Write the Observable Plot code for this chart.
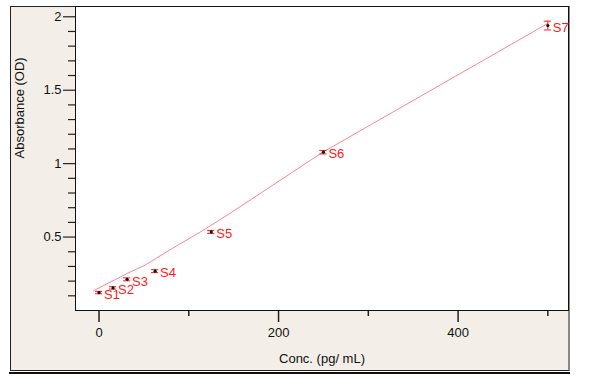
<!DOCTYPE html>
<html>
<head>
<meta charset="utf-8">
<script src="https://cdn.jsdelivr.net/npm/d3@7"></script>
<script src="https://cdn.jsdelivr.net/npm/@observablehq/plot@0.6"></script>
<style>
  body { margin: 0; background: #ffffff; }
  #wrap { position: relative; width: 600px; height: 388px; font-family: Arial, "Liberation Sans", sans-serif; }
  #bg { position: absolute; left: 10px; top: 6px; width: 557px; height: 363px; background: #f3eee7;
        border-left: 1px solid #222; border-top: 1px solid #222; border-bottom: 1px solid #222; border-right: 2px solid #888; }
  #rule { position: absolute; left: 9px; top: 372px; width: 561px; height: 2px; background: #111; }
  #chart { position: absolute; left: 0; top: 0; }
</style>
</head>
<body>
<div id="wrap"><div id="bg"></div><div id="rule"></div><div id="chart"></div></div>
<script>
// Standards
const labels = ["S1", "S2", "S3", "S4", "S5", "S6", "S7"];
const conc   = [0, 15.6, 31.25, 62.5, 125, 250, 500];
const absorb = [0.122, 0.154, 0.212, 0.268, 0.535, 1.078, 1.94];
const errs   = [0.008, 0.008, 0.01, 0.01, 0.01, 0.012, 0.03];

// Fitted curve
const fitConc = [-6, 32, 51, 82, 116, 146, 249, 500];
const fitAbs  = [0.135, 0.254, 0.308, 0.424, 0.546, 0.662, 1.077, 1.955];

// Ticks
const xMajor = [0, 200, 400];
const xMinor = [100, 300, 500];
const yMajor = [0.5, 1, 1.5, 2];
const yMinor = d3.range(1, 21).map(i => i / 10).filter(v => !yMajor.some(m => Math.abs(m - v) < 1e-9));

const pts = labels.map((s, i) => ({label: s, conc: conc[i], abs: absorb[i], err: errs[i]}));
const fit = fitConc.map((c, i) => ({conc: c, abs: fitAbs[i]}));
const capHalf = 4;
const red = "#ff1a1a";

const plot = Plot.plot({
  width: 600,
  height: 388,
  marginLeft: 75,
  marginRight: 32,
  marginTop: 6,
  marginBottom: 78,
  style: {background: "transparent", fontFamily: "Arial, 'Liberation Sans', sans-serif", fontSize: "13px", color: "#111", overflow: "visible"},
  x: {domain: [-26.2, 523], label: null},
  y: {domain: [0, 2.07], label: null},
  marks: [
    Plot.frame({fill: "white", stroke: "none"}),
    Plot.line(fit, {x: "conc", y: "abs", stroke: "#f2687e", strokeWidth: 1, strokeOpacity: 0.8}),
    Plot.ruleX(pts, {x: "conc", y1: d => d.abs - d.err, y2: d => d.abs + d.err, stroke: red, strokeWidth: 1}),
    Plot.ruleY(pts, {y: d => d.abs + d.err, x1: d => d.conc - capHalf, x2: d => d.conc + capHalf, stroke: red, strokeWidth: 1}),
    Plot.ruleY(pts, {y: d => d.abs - d.err, x1: d => d.conc - capHalf, x2: d => d.conc + capHalf, stroke: red, strokeWidth: 1}),
    Plot.dot(pts, {x: "conc", y: "abs", r: 1.6, fill: "#111", stroke: "none"}),
    Plot.axisY({ticks: yMajor, tickSize: 12, tickPadding: 2, tickFormat: d => String(d), stroke: "#222", strokeWidth: 1.2, label: null, fontSize: 13}),
    Plot.axisY({ticks: yMinor, tickSize: 7, text: null, stroke: "#222", strokeWidth: 1.2, label: null}),
    Plot.axisX({ticks: xMajor, tickSize: 12, tickPadding: 5, stroke: "#222", strokeWidth: 1.5, label: null, fontSize: 13}),
    Plot.axisX({ticks: xMinor, tickSize: 6, text: null, stroke: "#222", strokeWidth: 1.5, label: null}),
    Plot.frame({stroke: "#111", strokeWidth: 1}),
    Plot.text(pts, {x: "conc", y: "abs", text: "label", dx: 5, dy: 2, textAnchor: "start", fill: red, fontSize: 13}),
    Plot.text(["Conc. (pg/ mL)"], {frameAnchor: "bottom", dy: 52, fontSize: 13, fill: "#111"}),
    Plot.text(["Absorbance (OD)"], {frameAnchor: "left", dx: -56, rotate: -90, fontSize: 13, fill: "#111"})
  ]
});
document.getElementById("chart").appendChild(plot);
</script>
</body>
</html>
